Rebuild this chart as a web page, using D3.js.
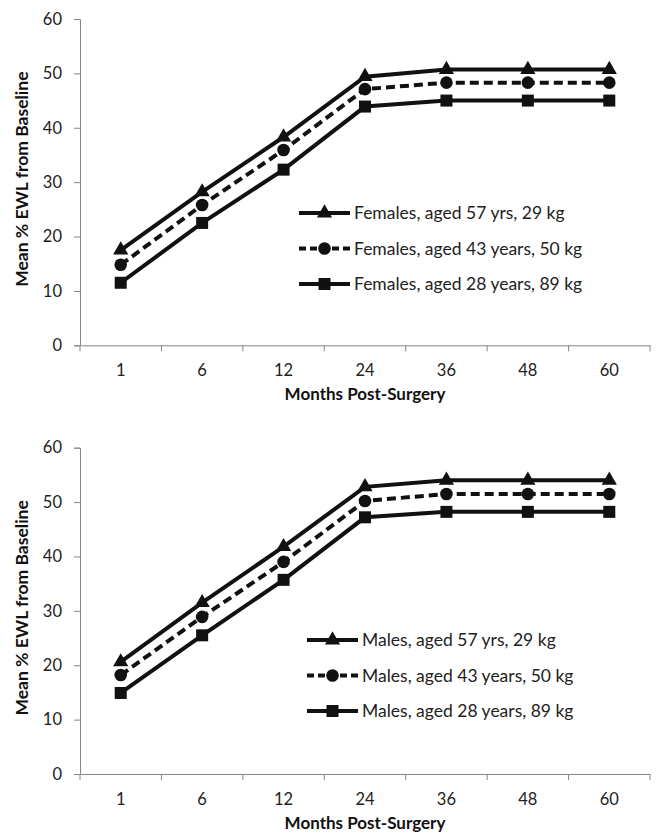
<!DOCTYPE html>
<html><head><meta charset="utf-8">
<script src="https://cdn.jsdelivr.net/npm/d3@7"></script>
<style>body{margin:0;background:#fff}svg{display:block}</style>
</head><body>
<svg id="c" width="657" height="839"></svg>
<script>
const categories = ["1","6","12","24","36","48","60"];
const yTicks = [0,10,20,30,40,50,60];
const female57 = [17.5,28.2,38.3,49.4,50.7,50.7,50.7];
const female43 = [14.8,25.8,35.9,47.1,48.3,48.3,48.3];
const female28 = [11.5,22.5,32.3,43.9,45.0,45.0,45.0];
const male57 = [20.6,31.5,41.8,52.8,54.0,54.0,54.0];
const male43 = [18.2,28.9,39.0,50.2,51.5,51.5,51.5];
const male28 = [14.9,25.5,35.7,47.2,48.2,48.2,48.2];
const femaleLabels = ["Females, aged 57 yrs, 29 kg","Females, aged 43 years, 50 kg","Females, aged 28 years, 89 kg"];
const maleLabels = ["Males, aged 57 yrs, 29 kg","Males, aged 43 years, 50 kg","Males, aged 28 years, 89 kg"];
const xTitle = "Months Post-Surgery";
const yTitle = "Mean % EWL from Baseline";

const svg = d3.select("#c");
const FONT = "Lato, 'Open Sans', sans-serif";
const styles = [
  {marker:"triangle", dash:null},
  {marker:"circle", dash:"9,5"},
  {marker:"square", dash:null}
];
function marker(g, type, x, y){
  if(type==="triangle") g.append("path").attr("d", d3.symbol(d3.symbolTriangle, 100)()).attr("transform",`translate(${x},${y})`).attr("fill","#111");
  else if(type==="circle") g.append("circle").attr("cx",x).attr("cy",y).attr("r",6.3).attr("fill","#111");
  else g.append("rect").attr("x",x-6).attr("y",y-6).attr("width",12).attr("height",12).attr("fill","#111");
}
function panel(top, bottom, seriesList, labels, leg){
  const g = svg.append("g");
  const x = d3.scaleBand().domain(categories).range([80,650]).paddingInner(0).paddingOuter(0);
  const y = d3.scaleLinear().domain([0,60]).range([bottom, top]);
  const yAx = g.append("g").attr("transform","translate(80,0)")
    .call(d3.axisLeft(y).tickValues(yTicks).tickSize(6).tickPadding(12));
  const xAx = g.append("g").attr("transform",`translate(0,${bottom})`)
    .call(d3.axisBottom(x).tickSize(0).tickPadding(19));
  const bounds = categories.map(c=>x(c)).concat([x.range()[1]]);
  g.selectAll(".bt").data(bounds).enter().append("line")
    .attr("x1",d=>d).attr("x2",d=>d).attr("y1",bottom).attr("y2",bottom+6)
    .attr("stroke","#868686").attr("stroke-width",1);
  [yAx,xAx].forEach(a=>{
    a.selectAll("path,line").attr("stroke","#868686");
    a.selectAll("text").attr("font-family",FONT).attr("font-size",16.5).attr("fill","#222");
  });
  g.append("text").attr("x",365).attr("y",bottom+55).attr("text-anchor","middle")
    .attr("font-family",FONT).attr("font-weight","bold").attr("font-size",17).attr("fill","#111").text(xTitle);
  g.append("text").attr("transform",`translate(28,${(top+bottom)/2-3}) rotate(-90)`).attr("text-anchor","middle")
    .attr("font-family",FONT).attr("font-weight","bold").attr("font-size",17.5).attr("fill","#111").text(yTitle);
  const line = d3.line().x((d,i)=>x(categories[i])+x.bandwidth()/2).y(d=>y(d));
  seriesList.forEach((s,k)=>{
    const st = styles[k];
    const p = g.append("path").datum(s).attr("d",line).attr("fill","none").attr("stroke","#111").attr("stroke-width",4);
    if(st.dash) p.attr("stroke-dasharray",st.dash);
    s.forEach((v,i)=>marker(g, st.marker, x(categories[i])+x.bandwidth()/2, y(v)));
  });
  labels.forEach((t,k)=>{
    const st = styles[k];
    const ly = leg.y + k*leg.dy;
    const l = g.append("line").attr("x1",leg.x).attr("x2",leg.x+leg.w).attr("y1",ly).attr("y2",ly)
      .attr("stroke","#111").attr("stroke-width",4);
    if(st.dash) l.attr("stroke-dasharray","7,4");
    marker(g, st.marker, leg.x+leg.w/2, ly);
    g.append("text").attr("x",leg.x+leg.w+4).attr("y",ly).attr("dy","0.35em")
      .attr("font-family",FONT).attr("font-size",17.5).attr("fill","#222").text(t);
  });
}
panel(19, 345.3, [female57,female43,female28], femaleLabels, {x:299,y:213,dy:35.5,w:51});
panel(447.7, 774, [male57,male43,male28], maleLabels, {x:307,y:640,dy:35.5,w:51});
</script>
</body></html>
